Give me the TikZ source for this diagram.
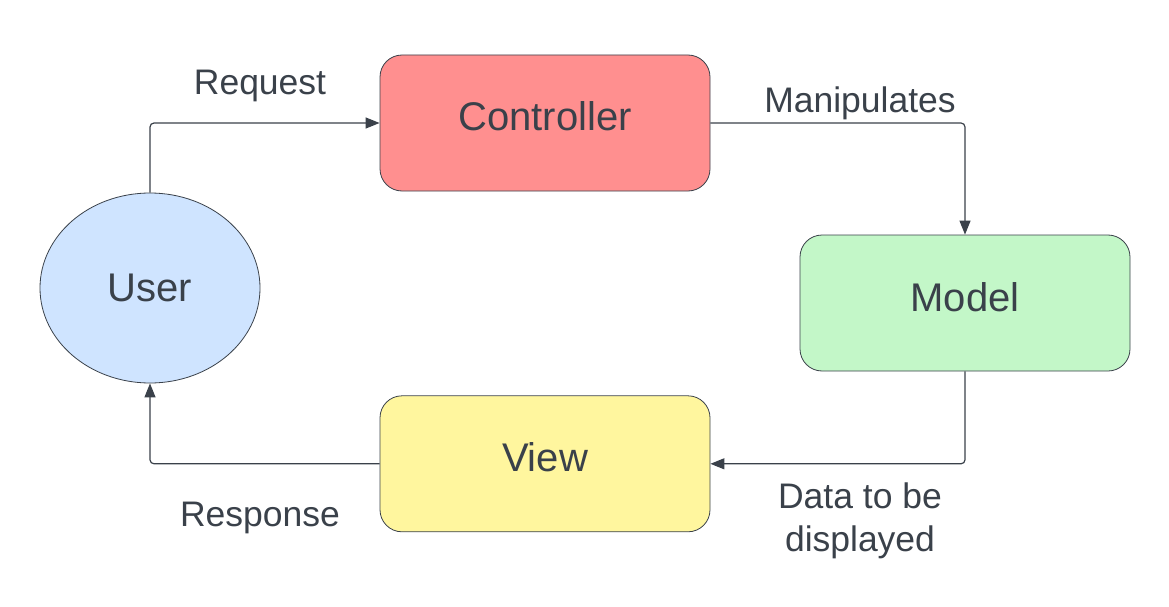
\documentclass[tikz,border=0pt]{standalone}
\usepackage{fontspec}
\setmainfont{Liberation Sans}
\usepackage{xcolor}
\usetikzlibrary{positioning, arrows.meta, shapes.geometric}

\definecolor{inkgrey}{HTML}{3A414A}
\definecolor{ctrlred}{HTML}{FF8F8F}
\definecolor{modelgreen}{HTML}{C3F7C8}
\definecolor{viewyellow}{HTML}{FFF69E}
\definecolor{userblue}{HTML}{CFE4FF}

\begin{document}
\begin{tikzpicture}[x=1pt,y=-1pt,>={Triangle[length=14pt,width=11pt]},semithick]
        \tikzset{box/.style={draw=inkgrey,line width=0.8pt,rounded corners=22pt,minimum width=330pt,minimum height=136pt,text height=28pt,text depth=12pt,text=inkgrey,font=\fontsize{40}{48}\selectfont},
                 flow/.style={->,draw=inkgrey,line width=1.2pt,rounded corners=4pt},
                 lbl/.style={text=inkgrey,align=center,font=\fontsize{35.5}{43}\selectfont}}
        \useasboundingbox (0,0) rectangle (1169,607);

        \node[ellipse,draw=inkgrey,line width=0.8pt,fill=userblue,minimum width=220pt,minimum height=190pt,inner sep=0pt,text=inkgrey,font=\fontsize{40}{48}\selectfont] (user) at (150,288) {User};
        \node[box,fill=ctrlred]    (ctrl)  at (545,123) {Controller};
        \node[box,fill=viewyellow] (view)  [below=204pt of ctrl] {View};
        \node[box,fill=modelgreen] (model) at (965,303) {Model};

        \node[lbl] (req)  at (260,86)  {Request};
        \node[lbl] (man)  at (860,103) {Manipulates};
        \node[lbl] (data) at (860,521) {Data to be\\displayed};
        \node[lbl] (resp) at (260,518) {Response};

        \draw[flow] (user.north) |- (ctrl.west);
        \draw[flow] (ctrl.east) -| (model.north);
        \draw[flow] (model.south) |- (view.east);
        \draw[flow] (view.west) -| (user.south);
\end{tikzpicture}
\end{document}
